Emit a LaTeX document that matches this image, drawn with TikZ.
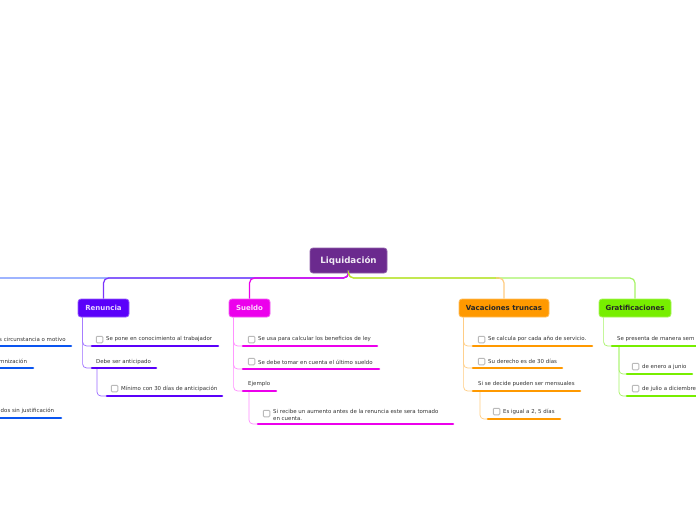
\documentclass[tikz,border=0pt]{standalone}
\usepackage{fontspec}
\setmainfont{DejaVu Sans}
\definecolor{rootc}{HTML}{6B2A8E}
\definecolor{renc}{HTML}{5A00FA}
\definecolor{renl}{HTML}{9A6BFF}
\definecolor{bluec}{HTML}{0A55F0}
\definecolor{bluel}{HTML}{6A8CFF}
\definecolor{suec}{HTML}{EC00EC}
\definecolor{suel}{HTML}{FF8CFF}
\definecolor{vacc}{HTML}{FF9900}
\definecolor{vacl}{HTML}{FFCC80}
\definecolor{gratc}{HTML}{77EE00}
\definecolor{gratl}{HTML}{A6F466}
\definecolor{ygreen}{HTML}{C2E02A}
\definecolor{txtc}{HTML}{333333}
\begin{document}
\begin{tikzpicture}[x=1pt,y=-1pt,
  conn/.style={line width=1.2pt, rounded corners=5pt},
  thinc/.style={line width=0.7pt, rounded corners=4pt},
  uline/.style={line width=2.6pt, line cap=round},
  cbox/.style={draw=gray!55, fill=white, line width=1pt, rounded corners=1pt, minimum size=6.5pt, inner sep=0pt},
  txt/.style={anchor=west, inner sep=0pt, font=\fontsize{5.45}{7}\selectfont, text=txtc, align=left},
  branch/.style={rounded corners=3pt, inner sep=0pt, font=\bfseries\fontsize{7}{8}\selectfont, minimum height=18pt, line width=0.8pt},
]
\clip (0,0) rectangle (696,520);
\fill[white] (0,0) rectangle (696,520);

% main nodes
\node[branch, fill=rootc, draw=rootc!75!white, text=white!90!rootc, minimum width=77pt, minimum height=25pt, font=\bfseries\fontsize{8.7}{10}\selectfont] (root) at (348.5,260.5) {Liquidación};
\node[branch, fill=renc, draw=renc!65!white, text=white!85!renc, minimum width=51pt] (ren) at (103.5,308) {Renuncia};
\node[branch, fill=suec, draw=suec!65!white, text=white!85!suec, minimum width=41pt] (sue) at (249.5,308) {Sueldo};
\node[branch, fill=vacc, draw=vacc!65!white, text=black!85, minimum width=90pt] (vac) at (504,308) {Vacaciones truncas};
\node[branch, fill=gratc, draw=gratc!65!white, text=black!85, minimum width=72pt] (grat) at (635,308) {Gratificaciones};

% top connectors
\coordinate (offl) at (-20,278);
\coordinate (hub) at (348.5,278);
\draw[conn, bluel] (root.south) -- (hub) -- (offl);
\draw[conn, renc!80!white] (root.south) -- (hub) -| (ren.north);
\draw[conn, suec] (root.south) -- (hub) -| (sue.north);
\draw[conn, gratl] (root.south) -- (hub) -| (grat.north);
\draw[conn, ygreen] (root.south) -- (hub) -- (499,278);
\coordinate (vturn) at (496,278);
\draw[conn, vacl] (vturn) -| (vac.north);

% ---------- left blue branch (cut off)
\node[txt] (b1) at (-1,339) {s circunstancia o motivo};
\node[txt] (b2) at (-1,361) {mnización};
\node[txt] (b3) at (-1,411) {idos sin justificación};
\coordinate (b1s) at (-5,346); \coordinate (b1e) at (71,346);
\coordinate (b2s) at (-5,368); \coordinate (b2e) at (33,368);
\coordinate (b3s) at (-5,418); \coordinate (b3e) at (61,418);
\draw[uline, bluec] (b1s) -- (b1e);
\draw[uline, bluec] (b2s) -- (b2e);
\draw[uline, bluec] (b3s) -- (b3e);

% ---------- Renuncia
\coordinate (r0) at ([xshift=5pt]ren.south west);
\coordinate (r1s) at (92,346); \coordinate (r1e) at (218,346);
\coordinate (r2s) at (92,368); \coordinate (r2e) at (156,368);
\coordinate (r2d) at (97,368);
\coordinate (r3s) at (107,396); \coordinate (r3e) at (222,396);
\draw[thinc, renl] (r0) |- (r1s);
\draw[thinc, renl] (r0) |- (r2s);
\draw[thinc, renl] (r2d) |- (r3s);
\draw[uline, renc] (r1s) -- (r1e);
\draw[uline, renc] (r2s) -- (r2e);
\draw[uline, renc] (r3s) -- (r3e);
\node[cbox] (r1c) at (99.5,339.5) {};
\node[txt] (r1) at (106,339) {Se pone en conocimiento al trabajador};
\node[txt] (r2) at (96,362) {Debe ser anticipado};
\node[cbox] (r3c) at (114.5,388.5) {};
\node[txt] (r3) at (121,389) {Mínimo con 30 días de anticipación};

% ---------- Sueldo
\coordinate (s0) at ([xshift=5pt]sue.south west);
\coordinate (s1s) at (243,346); \coordinate (s1e) at (377,346);
\coordinate (s2s) at (243,369); \coordinate (s2e) at (379,369);
\coordinate (s3s) at (243,391); \coordinate (s3e) at (276,391);
\coordinate (s3d) at (249,391);
\coordinate (s4s) at (258,424); \coordinate (s4e) at (453,424);
\draw[thinc, suel] (s0) |- (s1s);
\draw[thinc, suel] (s0) |- (s2s);
\draw[thinc, suel] (s0) |- (s3s);
\draw[thinc, suel] (s3d) |- (s4s);
\draw[uline, suec] (s1s) -- (s1e);
\draw[uline, suec] (s2s) -- (s2e);
\draw[uline, suec] (s3s) -- (s3e);
\draw[uline, suec] (s4s) -- (s4e);
\node[cbox] (s1c) at (251.5,339.5) {};
\node[txt] (s1) at (258,339) {Se usa para calcular los beneficios de ley};
\node[cbox] (s2c) at (251.5,361.5) {};
\node[txt] (s2) at (258,362) {Se debe tomar en cuenta el último sueldo};
\node[txt] (s3) at (248,384) {Ejemplo};
\node[cbox] (s4c) at (266.5,413.5) {};
\node[txt] (s4) at (273,414.5) {Si recibe un aumento antes de la renuncia este sera tomado\\en cuenta.};

% ---------- Vacaciones truncas
\coordinate (v0) at ([xshift=5pt]vac.south west);
\coordinate (v1s) at (473,346); \coordinate (v1e) at (592,346);
\coordinate (v2s) at (473,368); \coordinate (v2e) at (562,368);
\coordinate (v3s) at (473,391); \coordinate (v3e) at (580,391);
\coordinate (v3d) at (480,391);
\coordinate (v4s) at (488,419); \coordinate (v4e) at (560,419);
\draw[thinc, vacl] (v0) |- (v1s);
\draw[thinc, vacl] (v0) |- (v2s);
\draw[thinc, vacl] (v0) |- (v3s);
\draw[thinc, vacl] (v3d) |- (v4s);
\draw[uline, vacc] (v1s) -- (v1e);
\draw[uline, vacc] (v2s) -- (v2e);
\draw[uline, vacc] (v3s) -- (v3e);
\draw[uline, vacc] (v4s) -- (v4e);
\node[cbox] (v1c) at (481.5,339.5) {};
\node[txt] (v1) at (488,339) {Se calcula por cada año de servicio.};
\node[cbox] (v2c) at (481.5,361.5) {};
\node[txt] (v2) at (488,361) {Su derecho es de 30 días};
\node[txt] (v3) at (478,384) {Si se decide pueden ser mensuales};
\node[cbox] (v4c) at (496.5,411.5) {};
\node[txt] (v4) at (503,412) {Es igual a 2, 5 días};

% ---------- Gratificaciones
\coordinate (g0) at ([xshift=5pt]grat.south west);
\coordinate (g1s) at (612,346); \coordinate (g1e) at (705,346);
\coordinate (g1d) at (619,346);
\coordinate (g2s) at (627,374); \coordinate (g2e) at (692,374);
\coordinate (g3s) at (627,396); \coordinate (g3e) at (705,396);
\draw[thinc, gratl] (g0) |- (g1s);
\draw[thinc, gratl] (g1d) |- (g2s);
\draw[thinc, gratl] (g1d) |- (g3s);
\draw[uline, gratc] (g1s) -- (g1e);
\draw[uline, gratc] (g2s) -- (g2e);
\draw[uline, gratc] (g3s) -- (g3e);
\node[txt] (g1) at (617,339) {Se presenta de manera sem};
\node[cbox] (g2c) at (635.5,366.5) {};
\node[txt] (g2) at (642,367) {de enero a junio};
\node[cbox] (g3c) at (635.5,388.5) {};
\node[txt] (g3) at (642,389) {de julio a diciembre};
\end{tikzpicture}
\end{document}
